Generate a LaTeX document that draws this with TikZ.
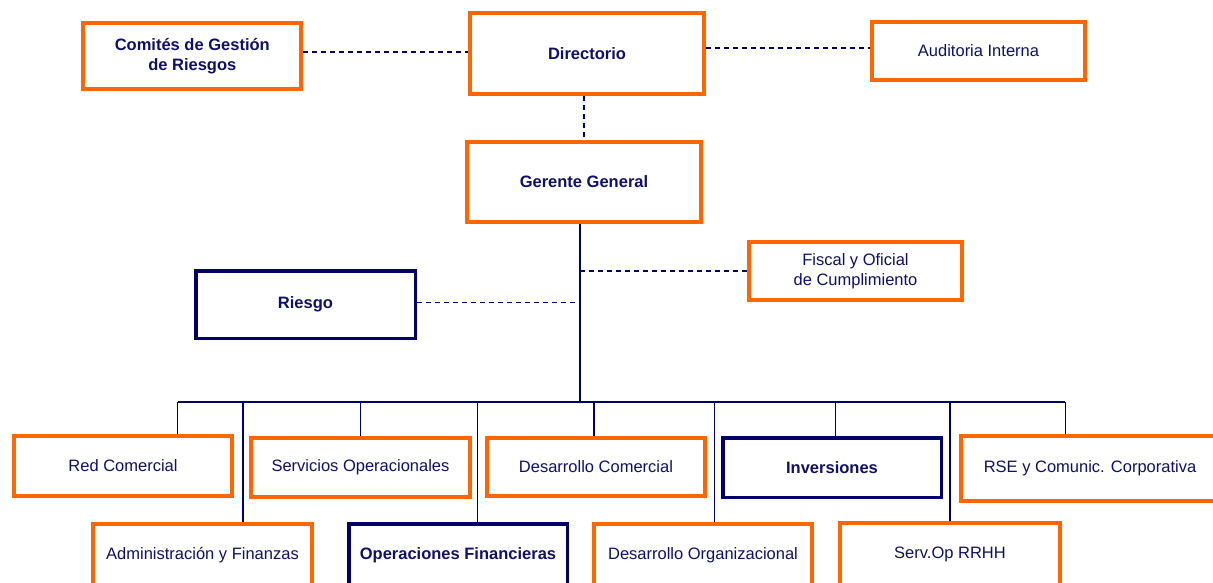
\documentclass[tikz,border=0pt]{standalone}
\usepackage{fontspec}
\setmainfont{Liberation Sans}
\usetikzlibrary{backgrounds}
\definecolor{orng}{RGB}{255,102,0}
\definecolor{navy}{RGB}{0,0,102}
\definecolor{navytext}{RGB}{16,16,104}
\tikzset{
  unit/.style={fill=white, inner sep=0pt, align=center, text=navytext,
    font=\fontsize{16.5}{19.5}\selectfont},
  obox/.style={unit, draw=orng, line width=4pt},
  nbox/.style={unit, draw=navy, line width=3.5pt, font=\fontsize{16.5}{19.5}\selectfont\bfseries},
  bold/.style={font=\fontsize{16.5}{19.5}\selectfont\bfseries},
  dashline/.style={draw=navy, line width=1.3pt, dash pattern=on 5pt off 4pt},
  thickline/.style={draw=navy, line width=2pt},
  thinline/.style={draw=navy, line width=1pt},
}
\begin{document}
\begin{tikzpicture}[x=1pt,y=-1pt]
\useasboundingbox (0,0) rectangle (1213,583);
\clip (0,0) rectangle (1213,583);

% top level
\node[obox, bold, minimum width=218pt, minimum height=66pt] (com) at (192.3,56) {Comités de Gestión\\de Riesgos};
\node[obox, bold, minimum width=234pt, minimum height=81pt] (dir) at (587,53.5) {Directorio};
\node[obox, minimum width=213pt, minimum height=58pt] (aud) at (978.5,51) {Auditoria Interna};
\node[obox, bold, minimum width=234pt, minimum height=80pt] (ger) at (584,182) {Gerente General};
\node[obox, minimum width=213pt, minimum height=58pt] (fis) at (855.5,271) {Fiscal y Oficial\\de Cumplimiento};
\node[nbox, minimum width=219.5pt, minimum height=67.5pt] (ries) at (305.5,304.5) {Riesgo};

% first row of units
\node[obox, minimum width=218pt, minimum height=60pt] (rc) at (123,466) {Red Comercial};
\node[obox, minimum width=219pt, minimum height=59pt] (so) at (360.5,467.5) {Servicios Operacionales};
\node[obox, minimum width=218pt, minimum height=58pt] (dc) at (596,467) {Desarrollo Comercial};
\node[nbox, minimum width=218.5pt, minimum height=59.5pt] (inv) at (832,467.5) {Inversiones};
\node[obox, minimum width=258pt, minimum height=65pt] (rse) at (1090,468.5) {RSE y Comunic. Corporativa};

% second row of units
\node[obox, minimum width=219pt, minimum height=62pt] (adm) at (202.5,555) {Administración y Finanzas};
\node[nbox, minimum width=218.5pt, minimum height=62.5pt] (opf) at (458,555) {Operaciones Financieras};
\node[obox, minimum width=218pt, minimum height=62pt] (dor) at (703,555) {Desarrollo Organizacional};
\node[obox, minimum width=220pt, minimum height=63pt] (rrh) at (950,554.5) {Serv.Op RRHH};

% bus and drop points
\coordinate (spine) at (580,402);
\coordinate (b1) at (177.5,402);
\coordinate (b2) at (242.7,402);
\coordinate (b3) at (360,402);
\coordinate (b4) at (477.5,402);
\coordinate (b5) at (594,402);
\coordinate (b6) at (714.5,402);
\coordinate (b7) at (835.7,402);
\coordinate (b8) at (950,402);
\coordinate (b9) at (1065,402);

\begin{scope}[on background layer]
  % advisory links
  \draw[dashline] ([yshift=4pt]com.east) -- ([yshift=4pt]com.east -| dir.west);
  \draw[dashline] ([yshift=3pt]aud.west -| dir.east) -- ([yshift=3pt]aud.west);
  \draw[dashline] (dir.south -| ger.north) -- (ger.north);
  \draw[dashline] (fis.west) -- (fis.west -| spine);
  \draw[dashline] ([yshift=2pt]ries.east) -- ([yshift=2pt]ries.east -| spine);
  % reporting lines
  \draw[thickline] (ger.south -| spine) -- (spine);
  \draw[thickline] (b1) -- (b9);
  \draw[thinline] (b1) -- (b1 |- rc.north);
  \draw[thickline] (b2) -- (b2 |- adm.north);
  \draw[thinline] (b3) -- (b3 |- so.north);
  \draw[thinline] (b4) -- (b4 |- opf.north);
  \draw[thickline] (b5) -- (b5 |- dc.north);
  \draw[thinline] (b6) -- (b6 |- dor.north);
  \draw[thinline] (b7) -- (b7 |- inv.north);
  \draw[thickline] (b8) -- (b8 |- rrh.north);
  \draw[thinline] (b9) -- (b9 |- rse.north);
\end{scope}
\end{tikzpicture}
\end{document}
